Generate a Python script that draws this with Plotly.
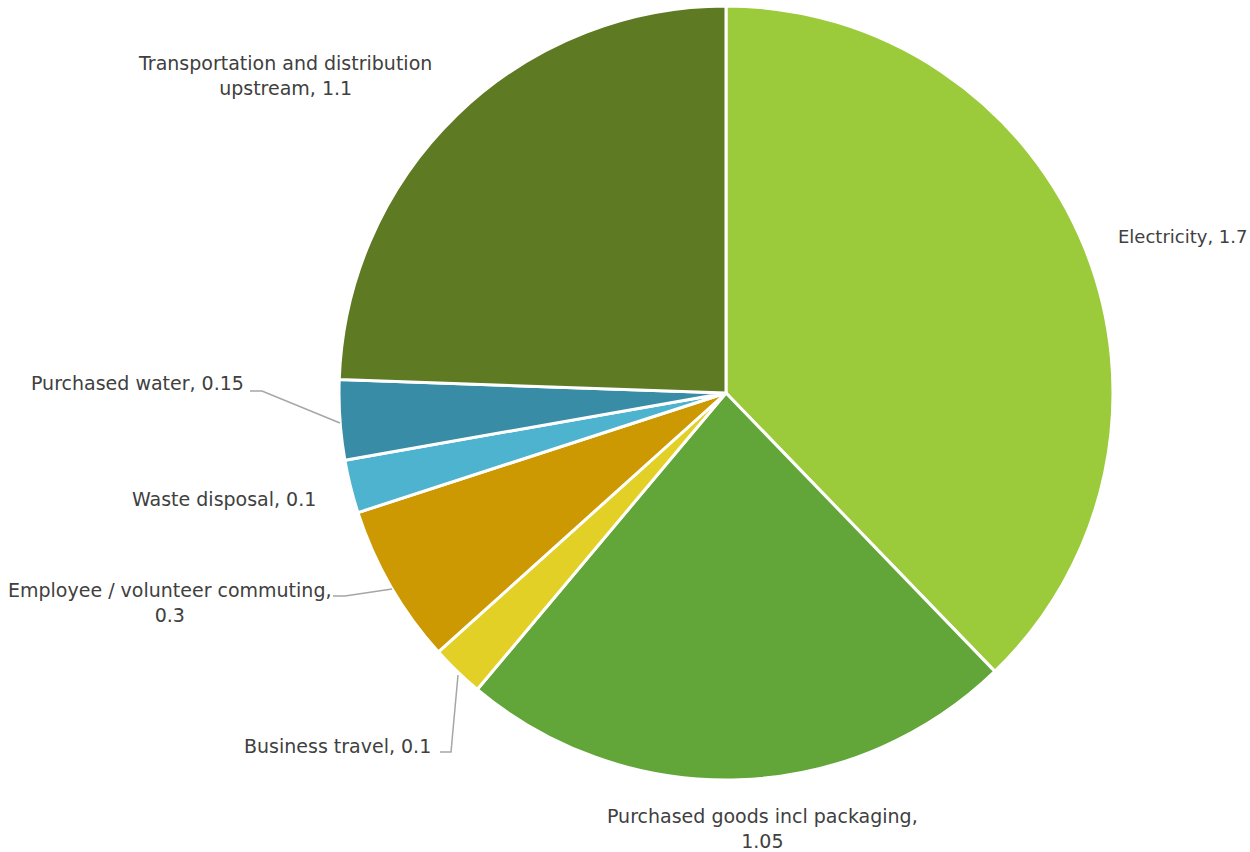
import plotly.graph_objects as go

categories = ["Electricity", "Purchased goods incl packaging", "Business travel",
              "Employee / volunteer commuting", "Waste disposal", "Purchased water",
              "Transportation and distribution upstream"]
values = [1.7, 1.05, 0.1, 0.3, 0.1, 0.15, 1.1]
colors = ["#9BCB3B", "#62A539", "#E3D027", "#CC9902", "#4EB3CF", "#388CA6", "#5E7A22"]

W, H = 1250, 852
cx, cy, r = 726, 393, 387

fig = go.Figure(go.Pie(
    labels=categories, values=values, sort=False, direction="clockwise", rotation=0,
    marker=dict(colors=colors, line=dict(color="white", width=3)),
    textinfo="none", hoverinfo="label+value", showlegend=False,
    domain=dict(x=[(cx - r) / W, (cx + r) / W], y=[(H - cy - r) / H, (H - cy + r) / H]),
))

def px(x):
    return x / W

def py(y):
    return 1 - y / H

label_text = [f"{c}, {v:g}" for c, v in zip(categories, values)]
label_text[1] = "Purchased goods incl packaging,<br>1.05"
label_text[3] = "Employee / volunteer commuting,<br>0.3"
label_text[6] = "Transportation and distribution<br>upstream, 1.1"
label_pos = [
    (1249, 237, "right", 18),
    (762, 828, "center", 19),
    (433, 746, "right", 19),
    (170, 602, "center", 19),
    (318, 499, "right", 19),
    (246, 383, "right", 19),
    (285, 75, "center", 19),
]
for t, (x, y, a, s) in zip(label_text, label_pos):
    fig.add_annotation(x=px(x), y=py(y), xref="paper", yref="paper", text=t,
                       showarrow=False, xanchor=a, yanchor="middle", align="center",
                       font=dict(family="'DejaVu Sans', 'Noto Sans', sans-serif",
                                 size=s, color="#404040"))

leaders = [
    [(250, 391), (262, 391), (340, 423)],
    [(333, 596), (345, 596), (392, 589)],
    [(440, 752), (451, 752), (458, 675)],
]
for pts in leaders:
    path = "M " + " L ".join(f"{px(x)},{py(y)}" for x, y in pts)
    fig.add_shape(type="path", path=path, xref="paper", yref="paper",
                  line=dict(color="#A6A6A6", width=1.5))

fig.update_layout(width=W, height=H, margin=dict(l=0, r=0, t=0, b=0),
                  paper_bgcolor="white", plot_bgcolor="white")
fig.write_html("out.html")
